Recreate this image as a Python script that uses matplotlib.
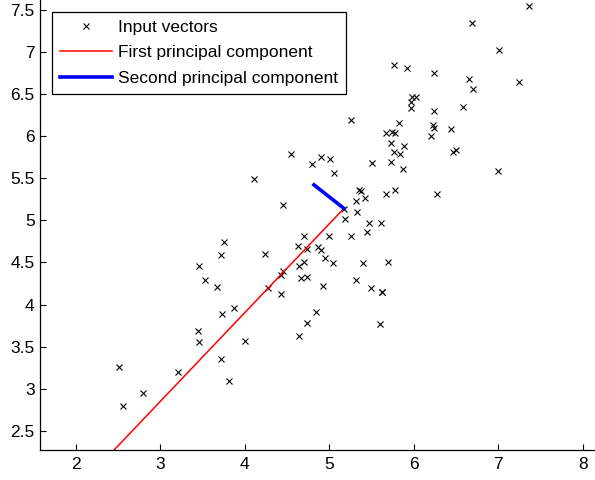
from matplotlib import pyplot as plt
from matplotlib.ticker import FormatStrFormatter

# input vectors
xs = [7.368, 6.689, 7.015, 5.766, 5.919, 6.243, 6.657, 7.242, 6.705, 5.975,
      6.022, 5.967, 5.963, 6.243, 6.583, 5.256, 5.825, 6.233, 6.245, 6.446,
      6.200, 5.671, 5.745, 5.781, 5.736, 5.890, 5.768, 5.842, 6.461, 6.500,
      4.548, 4.795, 4.903, 5.011, 5.059, 5.505, 5.736, 5.872, 6.997, 4.102,
      6.275, 5.355, 5.371, 5.318, 5.426, 5.673, 5.781, 4.455, 5.179, 5.333,
      5.182, 5.475, 5.612, 5.442, 5.256, 4.996, 4.703, 4.625, 4.732, 4.869,
      4.901, 4.952, 5.043, 5.395, 5.689, 4.242, 4.635, 4.700, 4.455, 4.431,
      4.668, 4.733, 4.271, 4.425, 4.921, 5.319, 5.490, 5.627, 5.629, 5.596,
      3.873, 4.842, 4.735, 4.641, 4.007, 3.747, 3.717, 3.456, 3.533, 3.672,
      3.732, 3.441, 3.456, 3.715, 2.515, 3.208, 3.809, 2.793, 2.560]
ys = [7.551, 7.349, 7.025, 6.843, 6.811, 6.752, 6.684, 6.641, 6.565, 6.470,
      6.470, 6.411, 6.333, 6.304, 6.348, 6.194, 6.162, 6.134, 6.095, 6.087,
      6.007, 6.043, 6.055, 6.043, 5.914, 5.885, 5.814, 5.790, 5.817, 5.831,
      5.790, 5.667, 5.748, 5.730, 5.561, 5.683, 5.698, 5.608, 5.591, 5.496,
      5.315, 5.359, 5.350, 5.235, 5.267, 5.315, 5.359, 5.188, 5.140, 5.099,
      5.018, 4.974, 4.974, 4.867, 4.816, 4.820, 4.820, 4.697, 4.662, 4.685,
      4.650, 4.558, 4.492, 4.492, 4.511, 4.606, 4.463, 4.511, 4.403, 4.347,
      4.311, 4.325, 4.201, 4.125, 4.219, 4.296, 4.202, 4.154, 4.152, 3.767,
      3.953, 3.910, 3.783, 3.628, 3.571, 4.741, 4.587, 4.463, 4.291, 4.214,
      3.890, 3.691, 3.549, 3.352, 3.260, 3.195, 3.088, 2.948, 2.797]

# principal component segments (end points)
pc1X = [2.30, 5.173]
pc1Y = [2.112, 5.142]
pc2X = [4.818, 5.173]
pc2Y = [5.422, 5.142]

xTicks = [2, 3, 4, 5, 6, 7, 8]
yTicks = [2.5, 3, 3.5, 4, 4.5, 5, 5.5, 6, 6.5, 7, 7.5]

plt.rcParams['font.family'] = ['Liberation Sans', 'DejaVu Sans']

fig = plt.figure(figsize=(5.95, 4.8), dpi=100)
ax = fig.add_axes([0.0677, 0.0625, 0.9323, 0.9375])

ax.plot(xs, ys, 'x', color='black', markersize=4, markeredgewidth=0.8,
        label='Input vectors')
ax.plot(pc1X, pc1Y, color='red', linewidth=1.1, label='First principal component')
ax.plot(pc2X, pc2Y, color='blue', linewidth=2.6, label='Second principal component')

ax.set_xlim(1.577, 8.146)
ax.set_ylim(2.271, 7.619)
ax.set_xticks(xTicks)
ax.set_yticks(yTicks)
ax.yaxis.set_major_formatter(FormatStrFormatter('%g'))
ax.tick_params(direction='in', length=4.5, width=0.8, labelsize=12.5, pad=5)
ax.tick_params(axis='y', pad=4)
ax.spines['top'].set_visible(False)
ax.spines['right'].set_visible(False)
for s in ['left', 'bottom']:
    ax.spines[s].set_linewidth(0.9)

leg = ax.legend(loc='upper left', bbox_to_anchor=(0.0206, 0.9727), borderaxespad=0,
                fontsize=12.5, numpoints=1, handlelength=3.0, handletextpad=0.38,
                borderpad=0.45, labelspacing=0.58, fancybox=False, framealpha=1)
leg.get_frame().set_edgecolor('black')
leg.get_frame().set_linewidth(0.9)

plt.savefig('out.png', dpi=100)
